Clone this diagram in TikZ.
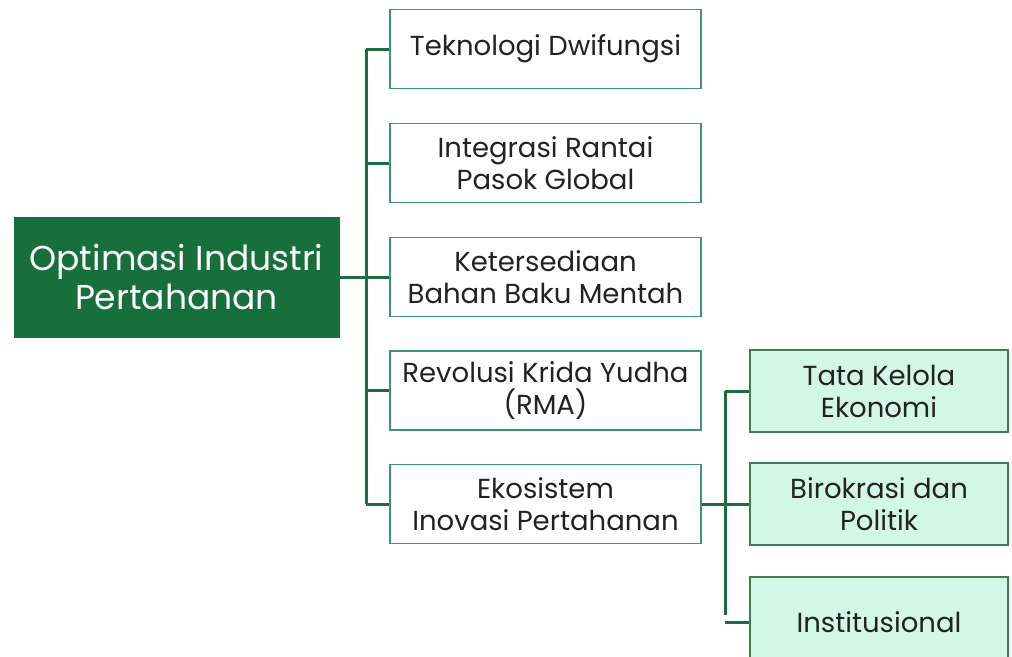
\documentclass[tikz,border=0pt]{standalone}
\usepackage{fontspec}
\setmainfont{Poppins}
\definecolor{darkgreen}{HTML}{17703B}
\definecolor{linegreen}{HTML}{1B6E3D}
\definecolor{boxborder}{HTML}{3E9573}
\definecolor{mint}{HTML}{D3F7E7}
\definecolor{mintborder}{HTML}{3A7F58}
\definecolor{txt}{HTML}{222222}
\tikzset{
  rootbox/.style={draw=darkgreen, fill=darkgreen, text=white, minimum width=325pt, minimum height=120pt, inner sep=0pt, align=center, font=\fontsize{34.5}{39}\selectfont},
  midbox/.style={draw=boxborder, line width=1.4pt, fill=white, text=txt, minimum width=311pt, minimum height=79pt, inner sep=0pt, align=center, font=\fontsize{27.5}{32}\selectfont},
  subbox/.style={draw=mintborder, line width=1.4pt, fill=mint, text=txt, minimum width=258pt, minimum height=82pt, inner sep=0pt, align=center, font=\fontsize{27.5}{32}\selectfont},
  conn/.style={draw=linegreen, line width=3pt}
}
\begin{document}
\begin{tikzpicture}[x=1pt,y=-1pt]
\useasboundingbox (0,0) rectangle (1012,656);
\clip (0,0) rectangle (1012,656);
\fill[white] (0,0) rectangle (1012,656);
% connectors
\coordinate (t1) at (366,49);
\coordinate (t5) at (366,504);
\coordinate (tr) at (366,277);
\coordinate (s1) at (725,391);
\coordinate (s3) at (725,615);
\coordinate (se) at (725,504);
\draw[conn] (t1) -- (t5);
\draw[conn] (s1) -- (s3);
% nodes
\node[rootbox] (root) at (176.5,277) {Optimasi Industri\\Pertahanan};
\node[midbox] (m1) at (545.5,49) {Teknologi Dwifungsi};
\node[midbox] (m2) at (545.5,163) {Integrasi Rantai\\Pasok Global};
\node[midbox] (m3) at (545.5,277) {Ketersediaan\\Bahan Baku Mentah};
\node[midbox] (m4) at (545.5,390.5) {Revolusi Krida Yudha\\(RMA)};
\node[midbox] (m5) at (545.5,504) {Ekosistem\\Inovasi Pertahanan};
\node[subbox] (r1) at (879,391) {Tata Kelola\\Ekonomi};
\node[subbox] (r2) at (879,504) {Birokrasi dan\\Politik};
\node[subbox, minimum height=90pt] (r3) at (879,622) {Institusional};
% branches
\draw[conn] (root.east) -- (tr);
\foreach \m in {m1,m2,m3,m4,m5} \draw[conn] (\m.west) -- (\m.west -| t1);
\draw[conn] (m5.east) -- (se);
\foreach \r in {r1,r2,r3} \draw[conn] (\r.west) -- (\r.west -| s1);
\end{tikzpicture}
\end{document}
